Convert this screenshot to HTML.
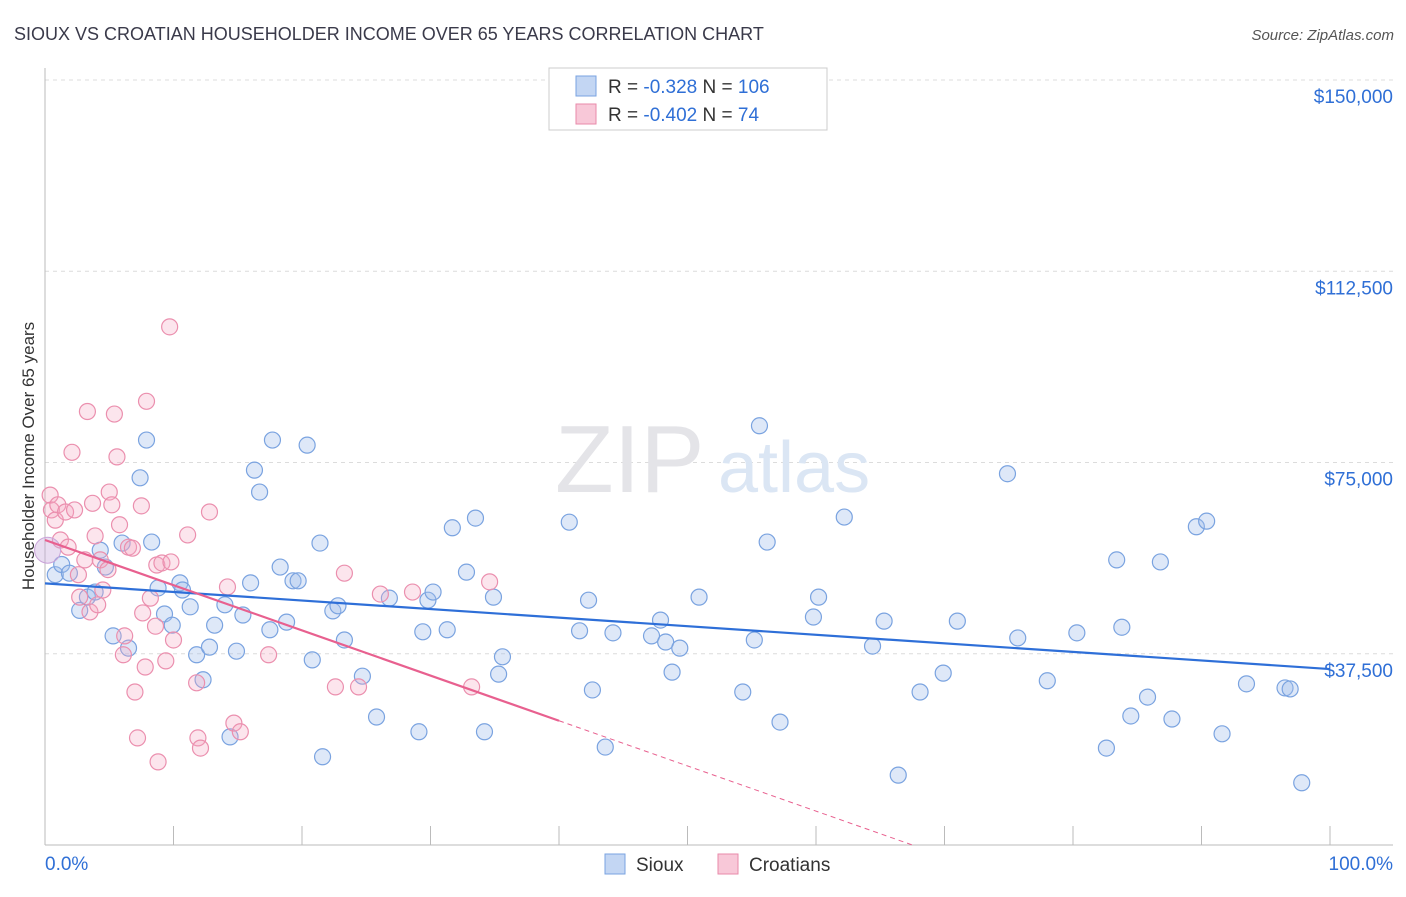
<!DOCTYPE html>
<html><head><meta charset="utf-8"><style>
body{margin:0;background:#fff;font-family:"Liberation Sans",sans-serif;}
svg text{font-family:"Liberation Sans",sans-serif;}
</style></head><body>
<svg id="c" width="1406" height="892" viewBox="0 0 1406 892">
<text x="14" y="40" font-size="18" fill="#3a3a4a">SIOUX VS CROATIAN HOUSEHOLDER INCOME OVER 65 YEARS CORRELATION CHART</text>
<text x="1394" y="40" font-size="15" fill="#555" text-anchor="end" font-style="italic">Source: ZipAtlas.com</text>
<text x="0" y="0" transform="translate(34,456) rotate(-90)" font-size="17" fill="#333" text-anchor="middle">Householder Income Over 65 years</text>
<g id="grid"></g>
<text x="555" y="492" font-size="96" fill="#e4e4e8" font-family="Liberation Serif">ZIP</text>
<text x="718" y="492" font-size="72" fill="#dbe6f4">atlas</text>
<g id="axes"></g>
<g id="pts"></g>
<g id="lines"></g>
<g>
<rect x="549" y="68" width="278" height="62" fill="#fff" stroke="#ccc"/>
<rect x="576" y="76" width="20" height="20" fill="#c3d6f3" stroke="#7aa3e0"/>
<rect x="576" y="104" width="20" height="20" fill="#f8c8d8" stroke="#e88aaa"/>
<text x="608" y="93" font-size="19" fill="#333">R = <tspan fill="#2f6fd6">-0.328</tspan>   N = <tspan fill="#2f6fd6">106</tspan></text>
<text x="608" y="121" font-size="19" fill="#333">R = <tspan fill="#2f6fd6">-0.402</tspan>   N = <tspan fill="#2f6fd6"> 74</tspan></text>
</g>
<g>
<rect x="605" y="854" width="20" height="20" fill="#c3d6f3" stroke="#7aa3e0"/>
<text x="636" y="871" font-size="19" fill="#333">Sioux</text>
<rect x="718" y="854" width="20" height="20" fill="#f8c8d8" stroke="#e88aaa"/>
<text x="749" y="871" font-size="19" fill="#333">Croatians</text>
</g>
</svg>
<script>
const yTicks=[37.5,75,112.5,150];
const yTickLabels=["$37,500","$75,000","$112,500","$150,000"];
const xEndLabels=["0.0%","100.0%"];
const siouxX=[0.8,1.3,1.9,2.7,3.3,3.9,4.3,4.7,5.3,6,6.5,7.4,7.9,8.3,8.8,9.3,9.9,10.5,10.7,11.3,11.8,12.3,12.8,13.2,14,14.4,14.9,15.4,16,16.3,16.7,17.5,17.7,18.3,18.8,19.3,19.7,20.4,20.8,21.4,21.6,22.4,22.8,23.3,24.7,25.8,26.8,29.1,29.4,29.8,30.2,31.3,31.7,32.8,33.5,34.2,34.9,35.3,35.6,40.8,41.6,42.3,42.6,43.6,44.2,47.2,47.9,48.3,48.8,49.4,50.9,54.3,55.2,55.6,56.2,57.2,59.8,60.2,62.2,64.4,65.3,66.4,68.1,69.9,71,74.9,75.7,78,80.3,82.6,83.4,83.8,84.5,85.8,86.8,87.7,89.6,90.4,91.6,93.5,96.5,96.9,97.8];
const siouxY=[53,55,53.3,46,48.6,49.6,57.8,54.5,41,59.2,38.6,72,79.4,59.4,50.4,45.3,43.1,51.4,50,46.7,37.3,32.4,38.8,43.1,47.1,21.2,38,45.1,51.4,73.5,69.2,42.2,79.4,54.5,43.7,51.8,51.8,78.4,36.3,59.2,17.3,45.9,46.9,40.2,33.1,25.1,48.4,22.2,41.8,48,49.6,42.2,62.2,53.5,64.1,22.2,48.6,33.5,36.9,63.3,42,48,30.4,19.2,41.6,41,44.1,39.8,33.9,38.6,48.6,30,40.2,82.2,59.4,24.1,44.7,48.6,64.3,39,43.9,13.7,30,33.7,43.9,72.8,40.6,32.2,41.6,19,55.9,42.7,25.3,29,55.5,24.7,62.4,63.5,21.8,31.6,30.8,30.6,12.2];
const croX=[0.4,0.5,0.8,1,1.2,1.6,1.8,2.1,2.3,2.6,2.7,3.1,3.3,3.5,3.7,3.9,4.1,4.3,4.5,4.9,5,5.2,5.4,5.6,5.8,6.1,6.2,6.5,6.8,7,7.2,7.5,7.6,7.8,7.9,8.2,8.6,8.7,8.8,9.1,9.4,9.7,9.8,10,11.1,11.8,11.9,12.1,12.8,14.2,14.7,15.2,17.4,22.6,23.3,24.4,26.1,28.6,33.2,34.6];
const croY=[68.6,65.7,63.7,66.7,59.8,65.3,58.4,77,65.7,53,48.6,55.9,85,45.7,67,60.6,47.1,55.9,50,54,69.2,66.7,84.5,76.1,62.8,37.3,41,58.4,58.2,30,21,66.5,45.5,34.9,87,48.4,42.9,54.9,16.3,55.3,36.1,101.6,55.5,40.2,60.8,31.8,21,19,65.3,50.6,23.9,22.2,37.3,31,53.3,31,49.2,49.6,31,51.6];
const blueFit=[51.3,34.5];   // value at x=0, x=100
const pinkFit=[59.8,0,40];   // value at x=0, value 0 at x%, solid end x%
const X=v=>45+v*12.85, Y=v=>845-v*5.1;
const NS="http://www.w3.org/2000/svg";
function mk(p,t,a){const e=document.createElementNS(NS,t);for(const k in a)e.setAttribute(k,a[k]);p.appendChild(e);return e;}
const grid=document.getElementById('grid'),axes=document.getElementById('axes'),pts=document.getElementById('pts'),lines=document.getElementById('lines');
yTicks.forEach((v,i)=>{
 const l=mk(grid,'line',{x1:45,x2:1393,y1:Y(v),y2:Y(v),stroke:'#dcdcdc','stroke-dasharray':'4,4'});
 
 
 const t=mk(axes,'text',{x:1393,y:Y(v)+23,'font-size':19,fill:'#2f6fd6','text-anchor':'end'});t.textContent=yTickLabels[i];
 
 
});
mk(axes,'line',{x1:45,x2:45,y1:68,y2:845,stroke:'#bbb'});
mk(axes,'line',{x1:45,x2:1393,y1:845,y2:845,stroke:'#bbb'});
for(let i=0;i<=10;i++){const t=mk(axes,'line',{x1:X(i*10),x2:X(i*10),y1:826,y2:845,stroke:'#bbb'});
 
 }
const a=mk(axes,'text',{x:45,y:870,'font-size':19,fill:'#2f6fd6'});a.textContent=xEndLabels[0];


const b=mk(axes,'text',{x:1393,y:870,'font-size':19,fill:'#2f6fd6','text-anchor':'end'});b.textContent=xEndLabels[1];


siouxX.forEach((x,i)=>{const c=mk(pts,'circle',{cx:X(x),cy:Y(siouxY[i]),r:8,fill:'rgba(160,190,235,0.35)',stroke:'#7aa3e0','stroke-width':1.2});
 
 });
croX.forEach((x,i)=>{const c=mk(pts,'circle',{cx:X(x),cy:Y(croY[i]),r:8,fill:'rgba(245,170,195,0.3)',stroke:'#eb8fae','stroke-width':1.2});
 
 });
const big=mk(pts,'circle',{cx:X(0.2),cy:Y(57.8),r:13,fill:'rgba(200,170,220,0.4)',stroke:'#c9a3d8'});


const bl=mk(lines,'line',{x1:X(0),y1:Y(blueFit[0]),x2:X(100),y2:Y(blueFit[1]),stroke:'#2e6fd8','stroke-width':2.2});


const slope=-pinkFit[0]/67.5, pv=x=>pinkFit[0]+slope*x;
const pl=mk(lines,'line',{x1:X(0),y1:Y(pv(0)),x2:X(pinkFit[2]),y2:Y(pv(pinkFit[2])),stroke:'#e8608f','stroke-width':2.2});


const pd=mk(lines,'line',{x1:X(pinkFit[2]),y1:Y(pv(pinkFit[2])),x2:X(67.5),y2:Y(0),stroke:'#e8608f','stroke-width':1,'stroke-dasharray':'5,4'});


</script>
</body></html>
